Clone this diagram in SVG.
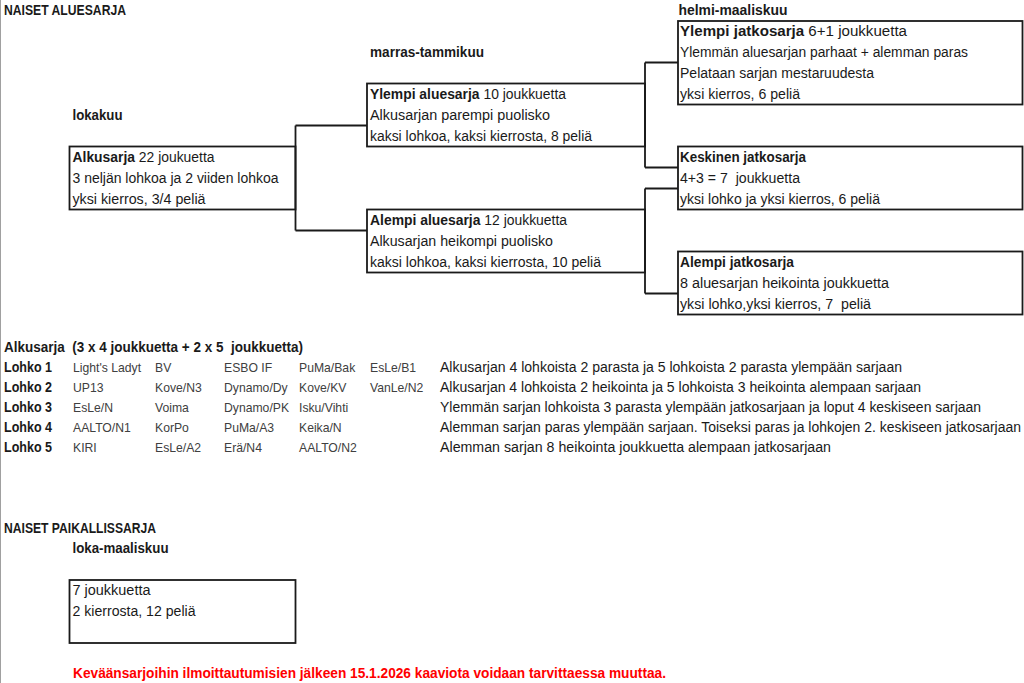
<svg xmlns="http://www.w3.org/2000/svg" width="1024" height="683" viewBox="0 0 1024 683">
<defs>
<style>
.t{font-family:"Liberation Sans",Arial,sans-serif;font-size:14px;fill:#1a1a1a}
.b{font-weight:bold}
.box{fill:none;stroke:#1a1a1a;stroke-width:1.8}
.con{fill:none;stroke:#1a1a1a;stroke-width:1.8}
.tm{font-size:12.2px;fill:#404040}
.red{fill:#ff0000;font-weight:bold}
</style>
</defs>
<rect x="0" y="0" width="1024" height="683" fill="#ffffff"/>
<line x1="0.5" y1="0" x2="0.5" y2="683" stroke="#a0a0a0" stroke-width="1"/>

<g id="connectors">
<path class="con" d="M295.5,125.5 V230.5 M295.5,125.5 H367 M295.5,230.5 H367"/>
<path class="con" d="M645,62.5 V167.5 M645,62.5 H678 M645,167.5 H678"/>
<path class="con" d="M645,188.5 V293.5 M645,188.5 H678 M645,293.5 H678"/>
</g>

<g id="headings">
<text class="t b" x="4" y="15" textLength="122" lengthAdjust="spacingAndGlyphs">NAISET ALUESARJA</text>
<text class="t b" x="72.5" y="120" textLength="50" lengthAdjust="spacingAndGlyphs">lokakuu</text>
<text class="t b" x="370" y="57" textLength="114" lengthAdjust="spacingAndGlyphs">marras-tammikuu</text>
<text class="t b" x="678.5" y="15" textLength="109" lengthAdjust="spacingAndGlyphs">helmi-maaliskuu</text>
</g>

<g id="alkusarja">
<rect class="box" x="69.5" y="146.5" width="226" height="63"/>
<text class="t" x="72.5" y="162" textLength="142" lengthAdjust="spacingAndGlyphs"><tspan class="b">Alkusarja</tspan> 22 joukuetta</text>
<text class="t" x="72.5" y="183" textLength="206" lengthAdjust="spacingAndGlyphs">3 neljän lohkoa ja 2 viiden lohkoa</text>
<text class="t" x="72.5" y="204" textLength="133" lengthAdjust="spacingAndGlyphs">yksi kierros, 3/4 peliä</text>
</g>

<g id="ylempi-aluesarja">
<rect class="box" x="367" y="83.5" width="278" height="63"/>
<text class="t" x="370" y="99" textLength="196" lengthAdjust="spacingAndGlyphs"><tspan class="b">Ylempi aluesarja</tspan> 10 joukkuetta</text>
<text class="t" x="370" y="120" textLength="180" lengthAdjust="spacingAndGlyphs">Alkusarjan parempi puolisko</text>
<text class="t" x="370" y="141" textLength="222" lengthAdjust="spacingAndGlyphs">kaksi lohkoa, kaksi kierrosta, 8 peliä</text>
</g>

<g id="alempi-aluesarja">
<rect class="box" x="367" y="209.5" width="278" height="63"/>
<text class="t" x="370" y="225" textLength="197" lengthAdjust="spacingAndGlyphs"><tspan class="b">Alempi aluesarja</tspan> 12 joukkuetta</text>
<text class="t" x="370" y="246" textLength="183" lengthAdjust="spacingAndGlyphs">Alkusarjan heikompi puolisko</text>
<text class="t" x="370" y="267" textLength="231" lengthAdjust="spacingAndGlyphs">kaksi lohkoa, kaksi kierrosta, 10 peliä</text>
</g>

<g id="ylempi-jatkosarja">
<rect class="box" x="678" y="21" width="344.5" height="83.5"/>
<text class="t" x="680" y="36" textLength="227" lengthAdjust="spacingAndGlyphs"><tspan class="b">Ylempi jatkosarja</tspan> 6+1 joukkuetta</text>
<text class="t" x="680" y="57" textLength="288" lengthAdjust="spacingAndGlyphs">Ylemmän aluesarjan parhaat + alemman paras</text>
<text class="t" x="680" y="78" textLength="194" lengthAdjust="spacingAndGlyphs">Pelataan sarjan mestaruudesta</text>
<text class="t" x="680" y="99" textLength="120" lengthAdjust="spacingAndGlyphs">yksi kierros, 6 peliä</text>
</g>

<g id="keskinen-jatkosarja">
<rect class="box" x="678" y="146.5" width="344.5" height="63"/>
<text class="t b" x="680" y="162" textLength="126" lengthAdjust="spacingAndGlyphs">Keskinen jatkosarja</text>
<text class="t" x="680" y="183" xml:space="preserve" textLength="120" lengthAdjust="spacingAndGlyphs">4+3 = 7  joukkuetta</text>
<text class="t" x="680" y="204" textLength="200" lengthAdjust="spacingAndGlyphs">yksi lohko ja yksi kierros, 6 peliä</text>
</g>

<g id="alempi-jatkosarja">
<rect class="box" x="678" y="251.5" width="344.5" height="63"/>
<text class="t b" x="680" y="267" textLength="114" lengthAdjust="spacingAndGlyphs">Alempi jatkosarja</text>
<text class="t" x="680" y="288" textLength="209" lengthAdjust="spacingAndGlyphs">8 aluesarjan heikointa joukkuetta</text>
<text class="t" x="680" y="309" xml:space="preserve" textLength="191" lengthAdjust="spacingAndGlyphs">yksi lohko,yksi kierros, 7  peliä</text>
</g>

<g id="alkusarja-table">
<text class="t b" x="4" y="352" xml:space="preserve" textLength="299" lengthAdjust="spacingAndGlyphs">Alkusarja  (3 x 4 joukkuetta + 2 x 5  joukkuetta)</text>
<text class="t b" x="4" y="372" textLength="48" lengthAdjust="spacingAndGlyphs">Lohko 1</text>
<text class="t b" x="4" y="392" textLength="48" lengthAdjust="spacingAndGlyphs">Lohko 2</text>
<text class="t b" x="4" y="412" textLength="48" lengthAdjust="spacingAndGlyphs">Lohko 3</text>
<text class="t b" x="4" y="432" textLength="48" lengthAdjust="spacingAndGlyphs">Lohko 4</text>
<text class="t b" x="4" y="452" textLength="48" lengthAdjust="spacingAndGlyphs">Lohko 5</text>

<text class="t tm" x="73" y="372">Light's Ladyt</text>
<text class="t tm" x="155" y="372">BV</text>
<text class="t tm" x="224" y="372">ESBO IF</text>
<text class="t tm" x="299" y="372">PuMa/Bak</text>
<text class="t tm" x="370" y="372">EsLe/B1</text>

<text class="t tm" x="73" y="392">UP13</text>
<text class="t tm" x="155" y="392">Kove/N3</text>
<text class="t tm" x="224" y="392">Dynamo/Dy</text>
<text class="t tm" x="299" y="392">Kove/KV</text>
<text class="t tm" x="370" y="392">VanLe/N2</text>

<text class="t tm" x="73" y="412">EsLe/N</text>
<text class="t tm" x="155" y="412">Voima</text>
<text class="t tm" x="224" y="412">Dynamo/PK</text>
<text class="t tm" x="299" y="412">Isku/Vihti</text>

<text class="t tm" x="73" y="432">AALTO/N1</text>
<text class="t tm" x="155" y="432">KorPo</text>
<text class="t tm" x="224" y="432">PuMa/A3</text>
<text class="t tm" x="299" y="432">Keika/N</text>

<text class="t tm" x="73" y="452">KIRI</text>
<text class="t tm" x="155" y="452">EsLe/A2</text>
<text class="t tm" x="224" y="452">Erä/N4</text>
<text class="t tm" x="299" y="452">AALTO/N2</text>

<text class="t" x="440" y="372" textLength="462" lengthAdjust="spacingAndGlyphs">Alkusarjan 4 lohkoista 2 parasta ja 5 lohkoista 2 parasta ylempään sarjaan</text>
<text class="t" x="440" y="392" textLength="481" lengthAdjust="spacingAndGlyphs">Alkusarjan 4 lohkoista 2 heikointa ja 5 lohkoista 3 heikointa alempaan sarjaan</text>
<text class="t" x="440" y="412" textLength="541" lengthAdjust="spacingAndGlyphs">Ylemmän sarjan lohkoista 3 parasta ylempään jatkosarjaan ja loput 4 keskiseen sarjaan</text>
<text class="t" x="440" y="432" textLength="581" lengthAdjust="spacingAndGlyphs">Alemman sarjan paras ylempään sarjaan. Toiseksi paras ja lohkojen 2. keskiseen jatkosarjaan</text>
<text class="t" x="440" y="452" textLength="391" lengthAdjust="spacingAndGlyphs">Alemman sarjan 8 heikointa joukkuetta alempaan jatkosarjaan</text>
</g>

<g id="paikallissarja">
<text class="t b" x="4" y="533" textLength="152" lengthAdjust="spacingAndGlyphs">NAISET PAIKALLISSARJA</text>
<text class="t b" x="72.5" y="553" textLength="96" lengthAdjust="spacingAndGlyphs">loka-maaliskuu</text>
<rect class="box" x="69.5" y="580" width="226" height="63"/>
<text class="t" x="72.5" y="595" textLength="78" lengthAdjust="spacingAndGlyphs">7 joukkuetta</text>
<text class="t" x="72.5" y="616" textLength="123" lengthAdjust="spacingAndGlyphs">2 kierrosta, 12 peliä</text>
</g>

<g id="note">
<text class="t red" x="73" y="678" textLength="593" lengthAdjust="spacingAndGlyphs">Keväänsarjoihin ilmoittautumisien jälkeen 15.1.2026 kaaviota voidaan tarvittaessa muuttaa.</text>
</g>
</svg>
